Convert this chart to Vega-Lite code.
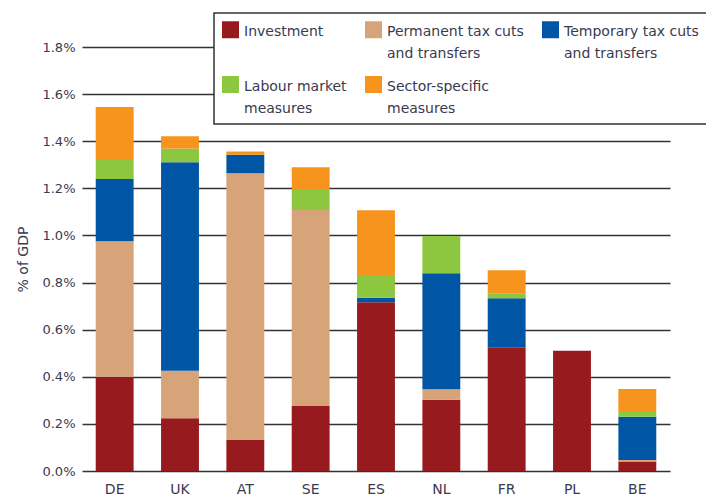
{
  "$schema": "https://vega.github.io/schema/vega-lite/v6.json",
  "width": 588,
  "height": 424,
  "autosize": {"type": "none"},
  "padding": {"left": 82, "top": 47, "right": 36, "bottom": 24},
  "background": "white",
  "config": {
    "view": {"stroke": null},
    "font": "DejaVu Sans",
    "style": {"guide-label": {"lineHeight": 22}}
  },
  "data": {
    "values": [
      {"country": "DE", "measure": "Investment", "value": 0.40},
      {"country": "DE", "measure": "Permanent tax cuts|and transfers", "value": 0.575},
      {"country": "DE", "measure": "Temporary tax cuts|and transfers", "value": 0.265},
      {"country": "DE", "measure": "Labour market|measures", "value": 0.085},
      {"country": "DE", "measure": "Sector-specific|measures", "value": 0.22},
      {"country": "UK", "measure": "Investment", "value": 0.224},
      {"country": "UK", "measure": "Permanent tax cuts|and transfers", "value": 0.202},
      {"country": "UK", "measure": "Temporary tax cuts|and transfers", "value": 0.885},
      {"country": "UK", "measure": "Labour market|measures", "value": 0.058},
      {"country": "UK", "measure": "Sector-specific|measures", "value": 0.052},
      {"country": "AT", "measure": "Investment", "value": 0.132},
      {"country": "AT", "measure": "Permanent tax cuts|and transfers", "value": 1.132},
      {"country": "AT", "measure": "Temporary tax cuts|and transfers", "value": 0.079},
      {"country": "AT", "measure": "Sector-specific|measures", "value": 0.013},
      {"country": "SE", "measure": "Investment", "value": 0.276},
      {"country": "SE", "measure": "Permanent tax cuts|and transfers", "value": 0.832},
      {"country": "SE", "measure": "Labour market|measures", "value": 0.085},
      {"country": "SE", "measure": "Sector-specific|measures", "value": 0.097},
      {"country": "ES", "measure": "Investment", "value": 0.716},
      {"country": "ES", "measure": "Temporary tax cuts|and transfers", "value": 0.019},
      {"country": "ES", "measure": "Labour market|measures", "value": 0.097},
      {"country": "ES", "measure": "Sector-specific|measures", "value": 0.275},
      {"country": "NL", "measure": "Investment", "value": 0.302},
      {"country": "NL", "measure": "Permanent tax cuts|and transfers", "value": 0.045},
      {"country": "NL", "measure": "Temporary tax cuts|and transfers", "value": 0.493},
      {"country": "NL", "measure": "Labour market|measures", "value": 0.158},
      {"country": "FR", "measure": "Investment", "value": 0.525},
      {"country": "FR", "measure": "Temporary tax cuts|and transfers", "value": 0.208},
      {"country": "FR", "measure": "Labour market|measures", "value": 0.022},
      {"country": "FR", "measure": "Sector-specific|measures", "value": 0.097},
      {"country": "PL", "measure": "Investment", "value": 0.511},
      {"country": "BE", "measure": "Investment", "value": 0.04},
      {"country": "BE", "measure": "Permanent tax cuts|and transfers", "value": 0.007},
      {"country": "BE", "measure": "Temporary tax cuts|and transfers", "value": 0.183},
      {"country": "BE", "measure": "Labour market|measures", "value": 0.025},
      {"country": "BE", "measure": "Sector-specific|measures", "value": 0.093}
    ]
  },
  "transform": [
    {"calculate": "indexof(['Investment', 'Permanent tax cuts|and transfers', 'Temporary tax cuts|and transfers', 'Labour market|measures', 'Sector-specific|measures'], datum.measure)", "as": "stackOrder"}
  ],
  "mark": {"type": "bar"},
  "encoding": {
    "x": {
      "field": "country",
      "type": "nominal",
      "sort": ["DE", "UK", "AT", "SE", "ES", "NL", "FR", "PL", "BE"],
      "scale": {"paddingInner": 0.42, "paddingOuter": 0.21},
      "axis": {
        "title": null,
        "labelAngle": 0,
        "domain": false,
        "ticks": false,
        "labelPadding": 11,
        "labelFontSize": 14,
        "labelColor": "#3a3a50"
      }
    },
    "y": {
      "field": "value",
      "type": "quantitative",
      "stack": "zero",
      "scale": {"domain": [0, 1.8], "nice": false},
      "axis": {
        "title": "% of GDP",
        "values": [0, 0.2, 0.4, 0.6, 0.8, 1.0, 1.2, 1.4, 1.6, 1.8],
        "labelExpr": "format(datum.value, '.1f') + '%'",
        "domain": false,
        "ticks": false,
        "grid": true,
        "gridColor": "#333333",
        "gridWidth": 1.4,
        "gridOpacity": 1,
        "labelPadding": 7,
        "labelFontSize": 13,
        "labelColor": "#3a3a50",
        "titleFontSize": 14,
        "titleFontWeight": "normal",
        "titleColor": "#3a3a50",
        "titlePadding": 11
      }
    },
    "order": {"field": "stackOrder", "type": "quantitative", "sort": "ascending"},
    "color": {
      "field": "measure",
      "type": "nominal",
      "sort": ["Investment", "Permanent tax cuts|and transfers", "Temporary tax cuts|and transfers", "Labour market|measures", "Sector-specific|measures"],
      "scale": {
        "domain": ["Investment", "Permanent tax cuts|and transfers", "Temporary tax cuts|and transfers", "Labour market|measures", "Sector-specific|measures"],
        "range": ["#971B1E", "#D6A478", "#0055A5", "#8DC63F", "#F7941D"]
      },
      "legend": {
        "title": null,
        "orient": "none",
        "direction": "horizontal",
        "legendX": 132,
        "legendY": -34,
        "columns": 3,
        "gridAlign": "each",
        "columnPadding": 18,
        "rowPadding": 15,
        "symbolType": "square",
        "symbolSize": 289,
        "symbolStrokeWidth": 0,
        "symbolOpacity": 1,
        "labelOffset": 5,
        "labelFontSize": 14,
        "labelColor": "#3a3a50",
        "labelLimit": 300,
        "labelBaseline": "top",
        "labelExpr": "indexof(datum.label, '|') < 0 ? [datum.label, ' '] : split(datum.label, '|')",
        "fillColor": "white",
        "strokeColor": "#333333",
        "padding": 8,
        "encode": {
          "legend": {"update": {"strokeWidth": {"value": 1.5}}},
          "labels": {"update": {"dy": {"value": -5}}}
        }
      }
    }
  }
}
